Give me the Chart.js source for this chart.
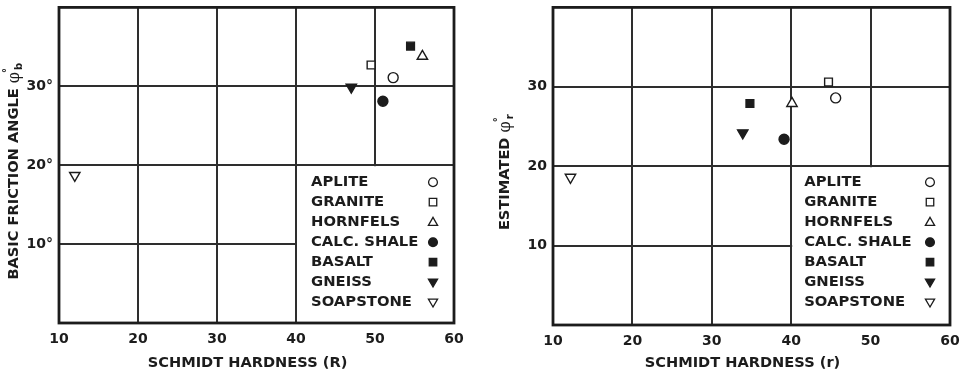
<!DOCTYPE html>
<html>
<head>
<meta charset="utf-8">
<script src="https://cdn.jsdelivr.net/npm/chart.js@4.4.1/dist/chart.umd.min.js"></script>
<style>
  html, body { margin: 0; padding: 0; background: #fff; }
  #wrap { position: relative; width: 964px; height: 376px; overflow: hidden; }
  .panel { position: absolute; top: 0; height: 376px; }
  #p1 { left: 0; width: 480px; }
  #p2 { left: 480px; width: 484px; }
</style>
</head>
<body>
<div id="wrap">
  <div class="panel" id="p1"><canvas id="c1"></canvas></div>
  <div class="panel" id="p2"><canvas id="c2"></canvas></div>
</div>
<script>
// Rock types tested
const rockTypes = ['APLITE', 'GRANITE', 'HORNFELS', 'CALC. SHALE', 'BASALT', 'GNEISS', 'SOAPSTONE'];

// Schmidt hardness on dry unweathered surfaces (R) and basic friction angle
const hardnessR = [52.3, 49.5, 56.0, 51.0, 54.5, 47.0, 12.0];
const basicAngle = [31.1, 32.7, 33.8, 28.1, 35.1, 29.9, 18.7];

// Schmidt hardness on weathered joint surfaces (r) and estimated residual angle
const hardnessr = [45.6, 44.7, 40.1, 39.1, 34.8, 33.9, 12.2];
const residualAngle = [28.6, 30.6, 27.9, 23.4, 27.9, 24.2, 18.6];

// Axis ticks
const xTicks = [10, 20, 30, 40, 50, 60];
const yTicks = [10, 20, 30];

// Marker symbol per rock type
const markerShape = ['circle', 'rect', 'triangle', 'circle', 'rect', 'triangle', 'triangle'];
const markerFilled = [false, false, false, true, true, true, false];
const markerRotation = [0, 0, 0, 0, 0, 180, 180];

const INK = '#1c1c1c';
const GRID = '#2e2e2e';
const FONT = '"DejaVu Sans", sans-serif';

function markerRadius(i) {
  return markerShape[i] === 'rect' ? 5.5 : (markerShape[i] === 'triangle' ? 6 : 5);
}

function buildDatasets(xs, ys) {
  return rockTypes.map((name, i) => ({
    label: name,
    data: [{ x: xs[i], y: ys[i] }],
    pointStyle: markerShape[i],
    rotation: markerRotation[i],
    pointRadius: markerRadius(i),
    pointHoverRadius: markerRadius(i),
    borderWidth: 1.4,
    borderColor: INK,
    backgroundColor: markerFilled[i] ? INK : '#fff'
  }));
}

// Small symbol drawing for the key inside the plot
function drawSymbol(ctx, i, x, y, r) {
  ctx.save();
  ctx.translate(x, y);
  ctx.rotate(markerRotation[i] * Math.PI / 180);
  ctx.beginPath();
  if (markerShape[i] === 'circle') {
    ctx.arc(0, 0, r, 0, Math.PI * 2);
  } else if (markerShape[i] === 'rect') {
    const s = r * 0.85;
    ctx.rect(-s, -s, 2 * s, 2 * s);
  } else {
    const h = r * 1.1;
    ctx.moveTo(0, -h);
    ctx.lineTo(h * 0.95, h * 0.65);
    ctx.lineTo(-h * 0.95, h * 0.65);
    ctx.closePath();
  }
  ctx.fillStyle = markerFilled[i] ? INK : '#fff';
  ctx.fill();
  ctx.lineWidth = 1.3;
  ctx.strokeStyle = INK;
  ctx.stroke();
  ctx.restore();
}

function makeChart(canvasId, xs, ys, cfg) {
  const decorPlugin = {
    id: 'decor_' + canvasId,
    beforeDatasetsDraw(chart) {
      const { ctx, chartArea: a, scales: { x, y } } = chart;
      // white key panel in the lower-right cell block
      const kx = x.getPixelForValue(40) + 1;
      const ky = y.getPixelForValue(20) + 1;
      ctx.save();
      ctx.fillStyle = '#fff';
      ctx.fillRect(kx, ky, a.right - kx, a.bottom - ky);
      ctx.restore();
    },
    afterDatasetsDraw(chart) {
      const { ctx, chartArea: a, scales: { x, y } } = chart;
      // frame
      ctx.save();
      ctx.strokeStyle = INK;
      ctx.lineWidth = 2.8;
      ctx.strokeRect(a.left, a.top, a.right - a.left, a.bottom - a.top);

      // key entries
      const kx = x.getPixelForValue(40);
      const ky = y.getPixelForValue(20);
      ctx.font = 'bold 14.8px ' + FONT;
      ctx.fillStyle = INK;
      ctx.textBaseline = 'middle';
      ctx.textAlign = 'left';
      rockTypes.forEach((name, i) => {
        const ry = ky + cfg.keyTop + i * 20;
        ctx.fillStyle = INK;
        ctx.fillText(name, kx + cfg.keyText, ry);
        drawSymbol(ctx, i, a.right - cfg.keySym, ry, 4.4);
      });

      // x axis title
      ctx.textAlign = 'center';
      ctx.font = 'bold 14.6px ' + FONT;
      ctx.fillStyle = INK;
      ctx.fillText(cfg.xTitle, (a.left + a.right) / 2 - 9, 363);

      // rotated y axis title with phi, superscript degree and subscript
      ctx.translate(cfg.yTitleX, (a.top + a.bottom) / 2 + 6);
      ctx.rotate(-Math.PI / 2);
      const mainFont = 'bold 14.6px ' + FONT;
      const phiFont = '16px "DejaVu Serif", serif';
      const smallFont = 'bold 10px ' + FONT;
      ctx.font = mainFont;
      const wMain = ctx.measureText(cfg.yTitle + ' ').width;
      ctx.font = phiFont;
      const wPhi = ctx.measureText('φ').width;
      ctx.font = smallFont;
      const wSub = ctx.measureText(cfg.ySub).width;
      const total = wMain + wPhi + wSub + 2;
      let px = -total / 2;
      ctx.textAlign = 'left';
      ctx.font = mainFont;
      ctx.fillText(cfg.yTitle + ' ', px, 0);
      px += wMain;
      ctx.font = phiFont;
      ctx.fillText('φ', px, 1);
      px += wPhi;
      ctx.font = smallFont;
      ctx.fillText('°', px - 1, -7);
      ctx.fillText(cfg.ySub, px + 2, 5);
      ctx.restore();
    }
  };

  return new Chart(document.getElementById(canvasId), {
    type: 'scatter',
    data: { datasets: buildDatasets(xs, ys) },
    options: {
      responsive: true,
      maintainAspectRatio: false,
      animation: false,
      events: [],
      layout: { padding: { left: 0, right: cfg.padRight, top: cfg.padTop, bottom: 0 } },
      plugins: { legend: { display: false }, tooltip: { enabled: false } },
      scales: {
        x: {
          type: 'linear',
          min: 10, max: 60,
          afterFit(s) {
            s.height = cfg.xAxisH;
            s.paddingLeft = 0; s.paddingRight = 0;
          },
          afterBuildTicks(s) { s.ticks = xTicks.map(v => ({ value: v })); },
          ticks: { color: INK, font: { family: FONT, size: 14, weight: 'bold' }, padding: 8 },
          grid: { color: GRID, lineWidth: 2, drawTicks: false },
          border: { display: false }
        },
        y: {
          type: 'linear',
          min: 0, max: 40,
          afterFit(s) {
            s.width = cfg.yAxisW;
            s.paddingTop = 0; s.paddingBottom = 0;
          },
          afterBuildTicks(s) { s.ticks = [0].concat(yTicks, [40]).map(v => ({ value: v })); },
          ticks: {
            color: INK,
            font: { family: FONT, size: 14, weight: 'bold' },
            padding: cfg.yTickPad,
            callback: v => (yTicks.includes(v) ? v + cfg.yUnit : '')
          },
          grid: { color: GRID, lineWidth: 2, drawTicks: false },
          border: { display: false }
        }
      }
    },
    plugins: [decorPlugin]
  });
}

makeChart('c1', hardnessR, basicAngle, {
  xTitle: 'SCHMIDT HARDNESS (R)',
  yTitle: 'BASIC FRICTION ANGLE',
  ySub: 'b',
  yUnit: '°',
  yTitleX: 14,
  yAxisW: 59,
  yTickPad: 6,
  xAxisH: 53,
  padRight: 26,
  padTop: 4,
  keyTop: 17,
  keyText: 15,
  keySym: 21
});

makeChart('c2', hardnessr, residualAngle, {
  xTitle: 'SCHMIDT HARDNESS (r)',
  yTitle: 'ESTIMATED',
  ySub: 'r',
  yUnit: '',
  yTitleX: 25,
  yAxisW: 73,
  yTickPad: 6,
  xAxisH: 51,
  padRight: 14,
  padTop: 5,
  keyTop: 16,
  keyText: 13,
  keySym: 20
});
</script>
</body>
</html>
